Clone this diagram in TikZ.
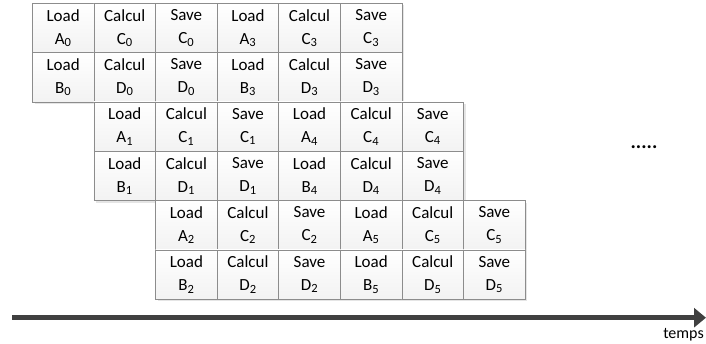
\documentclass[tikz,border=0pt]{standalone}
\usepackage{fontspec}
\setmainfont{Carlito}
\usetikzlibrary{arrows.meta}
\tikzset{
  x=1pt, y=1pt,
  cell/.style={draw=black!45, line width=0.7pt, top color=white, bottom color=black!5,
    minimum width=61.6pt, minimum height=49.3pt, inner sep=0pt, align=center,
    font=\fontsize{17}{23}\selectfont, anchor=north west},
  blockshadow/.style={fill=black!10, draw=none},
  timeline/.style={line width=5pt, draw=black!75, -{Triangle[length=12pt,width=19pt]}},
}
\newcommand{\sbs}[1]{\textsubscript{\fontsize{12.5}{12.5}\selectfont #1}}
\begin{document}
\begin{tikzpicture}
\useasboundingbox (0,0) rectangle (706,343);
\foreach \k in {0,1,2} {
  \pgfmathsetmacro{\bx}{32+61.6*\k}
  \pgfmathsetmacro{\by}{340-98.6*\k}
  \fill[blockshadow] (\bx+2.5,\by-2.5) rectangle ++(369.6,-98.6);
}
\foreach \k in {0,1,2} {
  \pgfmathsetmacro{\bx}{32+61.6*\k}
  \pgfmathsetmacro{\by}{340-98.6*\k}
  \pgfmathtruncatemacro{\j}{\k+3}
  \node[cell] (a\k) at (\bx,\by) {Load\\A\sbs{\k}};
  \node[cell] (c\k) at (\bx+61.6,\by) {Calcul\\C\sbs{\k}};
  \node[cell] (s\k) at (\bx+123.2,\by) {Save\\C\sbs{\k}};
  \node[cell] (a\j) at (\bx+184.8,\by) {Load\\A\sbs{\j}};
  \node[cell] (c\j) at (\bx+246.4,\by) {Calcul\\C\sbs{\j}};
  \node[cell] (s\j) at (\bx+308,\by) {Save\\C\sbs{\j}};
  \node[cell] (b\k) at (\bx,\by-49.3) {Load\\B\sbs{\k}};
  \node[cell] (d\k) at (\bx+61.6,\by-49.3) {Calcul\\D\sbs{\k}};
  \node[cell] (t\k) at (\bx+123.2,\by-49.3) {Save\\D\sbs{\k}};
  \node[cell] (b\j) at (\bx+184.8,\by-49.3) {Load\\B\sbs{\j}};
  \node[cell] (d\j) at (\bx+246.4,\by-49.3) {Calcul\\D\sbs{\j}};
  \node[cell] (t\j) at (\bx+308,\by-49.3) {Save\\D\sbs{\j}};
}
\node[font=\fontsize{20}{20}\selectfont\bfseries, inner sep=0pt] (dots) at (644,196) {.....};
\coordinate (tstart) at (12,25.3);
\coordinate (tend) at (706,25.3);
\draw[timeline] (tstart) -- (tend);
\node[font=\fontsize{16}{16}\selectfont, anchor=east, inner sep=0pt] (temps) at (704,8) {temps};
\end{tikzpicture}
\end{document}
